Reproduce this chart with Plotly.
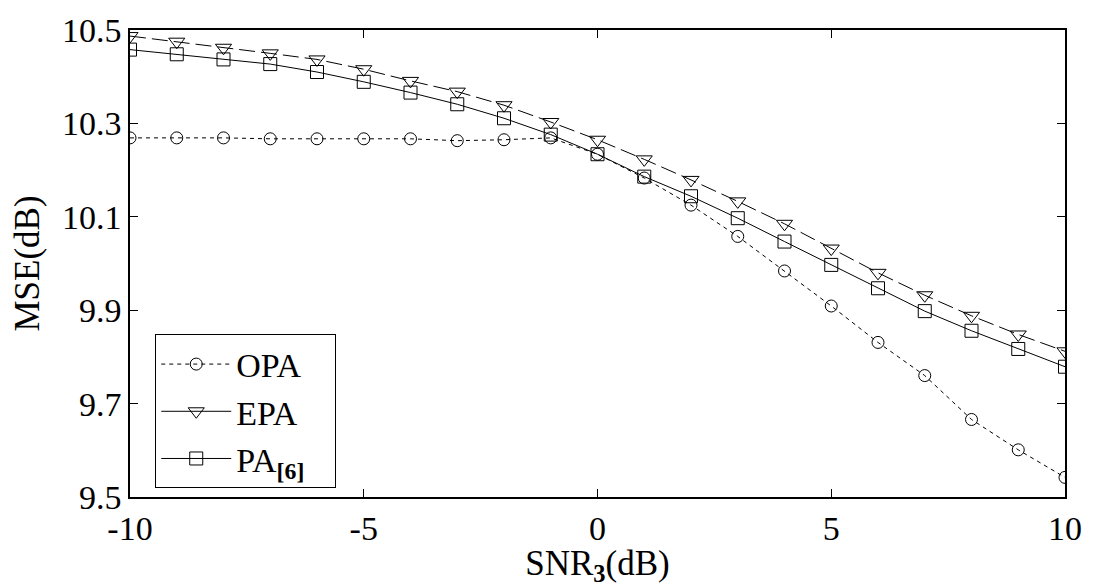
import plotly.graph_objects as go

snr = list(range(-10, 11))
opa = [10.269, 10.269, 10.269, 10.267, 10.267, 10.267, 10.267, 10.263, 10.265, 10.269,
       10.234, 10.183, 10.125, 10.058, 9.984, 9.909, 9.831, 9.760, 9.666, 9.601, 9.542]
epa = [10.487, 10.475, 10.462, 10.450, 10.437, 10.416, 10.391, 10.368, 10.339, 10.303,
       10.265, 10.223, 10.179, 10.133, 10.085, 10.032, 9.980, 9.932, 9.888, 9.848, 9.812]
pa6 = [10.458, 10.448, 10.437, 10.427, 10.410, 10.389, 10.366, 10.341, 10.311, 10.276,
       10.234, 10.186, 10.144, 10.097, 10.047, 9.997, 9.947, 9.898, 9.856, 9.817, 9.779]
names = ["OPA", "EPA", "PA<sub><b>[6]</b></sub>&nbsp;&nbsp;&nbsp;"]
xticks = [-10, -5, 0, 5, 10]
yticks = [9.5, 9.7, 9.9, 10.1, 10.3, 10.5]
ytick_text = ["9.5", "9.7", "9.9", "10.1", "10.3", "10.5"]

FONT = "Liberation Serif, Times New Roman, serif"
fig = go.Figure()

series = [
    (opa, "circle-open", 12, "4px,4px", "4px,4px"),
    (epa, "triangle-down-open", 14, "16px,6px", "solid"),
    (pa6, "square-open", 13, "solid", "solid"),
]
for (vals, sym, sz, dash, legdash), name in zip(series, names):
    fig.add_trace(go.Scatter(x=snr, y=vals, mode="lines+markers", showlegend=False,
                             line=dict(color="black", width=1, dash=dash),
                             marker=dict(symbol=sym, size=sz, color="black",
                                         line=dict(width=1, color="black"))))
    fig.add_trace(go.Scatter(x=[None], y=[None], mode="lines+markers", name=name,
                             line=dict(color="black", width=1, dash=legdash),
                             marker=dict(symbol=sym, size=sz, color="black",
                                         line=dict(width=1, color="black"))))

axis_common = dict(showgrid=False, zeroline=False, showline=True, linecolor="black",
                   linewidth=1.5, mirror="allticks", ticks="inside", ticklen=8,
                   tickcolor="black", ticklabeloverflow="allow",
                   tickfont=dict(family=FONT, size=34, color="black"))
fig.update_xaxes(range=[-10, 10], tickvals=xticks,
                 ticktext=[str(v) for v in xticks],
                 title=dict(text="SNR<sub><b>3</b></sub>(dB)",
                            font=dict(family=FONT, size=35, color="black"), standoff=0),
                 **axis_common)
fig.update_yaxes(range=[9.5, 10.5], tickvals=yticks, ticktext=ytick_text,
                 title=dict(text="MSE(dB)", font=dict(family=FONT, size=35, color="black"),
                            standoff=12),
                 **axis_common)

fig.update_layout(
    width=1094, height=587,
    margin=dict(l=130, r=24, t=20, b=90),
    plot_bgcolor="white", paper_bgcolor="white",
    font=dict(family=FONT, color="black"),
    legend=dict(x=0.027, y=0.348, xanchor="left", yanchor="top",
                bgcolor="white", bordercolor="black", borderwidth=1,
                font=dict(family=FONT, size=34, color="black"),
                itemwidth=70, tracegroupgap=0),
)

# remove the browser's default 8px body margin so the figure sits at the page origin
fig.write_html("out.html", config={"displayModeBar": False},
               post_script="document.body.style.margin='0';")
